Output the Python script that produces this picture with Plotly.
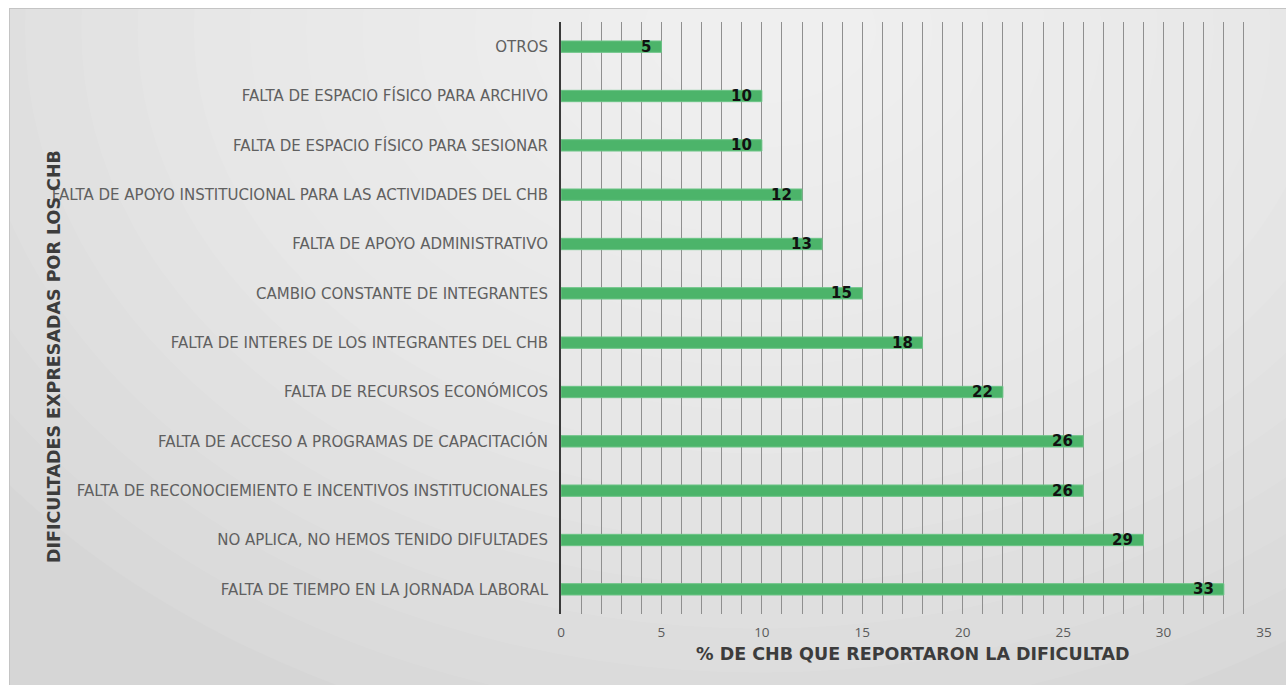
import plotly.graph_objects as go

categories = [
    "FALTA DE TIEMPO EN LA JORNADA LABORAL",
    "NO APLICA, NO HEMOS TENIDO DIFULTADES",
    "FALTA DE RECONOCIEMIENTO E INCENTIVOS INSTITUCIONALES",
    "FALTA DE ACCESO A PROGRAMAS DE CAPACITACIÓN",
    "FALTA DE RECURSOS ECONÓMICOS",
    "FALTA DE INTERES DE LOS INTEGRANTES DEL CHB",
    "CAMBIO CONSTANTE DE INTEGRANTES",
    "FALTA DE APOYO ADMINISTRATIVO",
    "FALTA DE APOYO INSTITUCIONAL PARA LAS ACTIVIDADES DEL CHB",
    "FALTA DE ESPACIO FÍSICO PARA SESIONAR",
    "FALTA DE ESPACIO FÍSICO PARA ARCHIVO",
    "OTROS",
]
values = [33, 29, 26, 26, 22, 18, 15, 13, 12, 10, 10, 5]
x_ticks = [0, 5, 10, 15, 20, 25, 30, 35]

W, H = 1286, 685
L, R, T, B = 561, 1264, 22, 614


def px(x):
    return (x - L) / (R - L)


def py(y):
    return (B - y) / (B - T)


fig = go.Figure()
fig.add_trace(go.Bar(
    y=categories, x=values, orientation="h",
    width=0.23,
    marker=dict(color="#4cb46a", line=dict(color="#6cc486", width=1)),
    hoverinfo="x+y",
))

shapes = [
    dict(type="rect", xref="paper", yref="paper",
         x0=px(9), x1=px(1290), y0=py(690), y1=py(8),
         fillcolor="#d6d6d6", line=dict(color="#c8c8c8", width=1), layer="below"),
]
n = 16
for i in range(n):
    f = 1 - i / n
    rx, ry = 60 + 900 * f, 30 + 700 * f
    cx, cy = 760, 30
    shapes.append(dict(type="circle", xref="paper", yref="paper",
                       x0=px(cx - rx), x1=px(cx + rx), y0=py(cy + ry), y1=py(cy - ry),
                       fillcolor="rgba(255,255,255,0.075)", line=dict(width=0), layer="below"))
shapes += [
    dict(type="rect", xref="paper", yref="paper", x0=px(-10), x1=px(9), y0=py(700), y1=py(-10),
         fillcolor="white", line=dict(width=0), layer="below"),
    dict(type="rect", xref="paper", yref="paper", x0=px(-10), x1=px(1300), y0=py(8), y1=py(-10),
         fillcolor="white", line=dict(width=0), layer="below"),
    dict(type="line", xref="paper", yref="paper", x0=px(9), x1=px(1290), y0=py(8.5), y1=py(8.5),
         line=dict(color="#c4c4c4", width=1), layer="below"),
    dict(type="line", xref="paper", yref="paper", x0=px(9.5), x1=px(9.5), y0=py(8), y1=py(690),
         line=dict(color="#c4c4c4", width=1), layer="below"),
]

annotations = [
    dict(x=v, y=c, xref="x", yref="y", text=str(v), showarrow=False,
         xanchor="right", xshift=-8, yshift=0,
         font=dict(family="DejaVu Sans", size=15, color="#111111", weight="bold"))
    for c, v in zip(categories, values)
]
annotations += [
    dict(text="% DE CHB QUE REPORTARON LA DIFICULTAD", xref="paper", yref="paper",
         x=px(913), y=py(666), showarrow=False,
         font=dict(family="DejaVu Sans", size=17.5, color="#3c3c3c", weight="bold")),
    dict(text="DIFICULTADES EXPRESADAS POR LOS CHB", xref="paper", yref="paper",
         x=px(42), y=py(357), showarrow=False, textangle=-90,
         font=dict(family="DejaVu Sans", size=17.5, color="#3c3c3c", weight="bold")),
]

fig.update_layout(
    width=W, height=H,
    margin=dict(l=L, r=W - R, t=T, b=H - B),
    paper_bgcolor="white",
    plot_bgcolor="rgba(0,0,0,0)",
    showlegend=False,
    shapes=shapes,
    annotations=annotations,
    xaxis=dict(
        range=[0, 35], tickvals=x_ticks, ticktext=[str(t) for t in x_ticks],
        showgrid=False,
        tickfont=dict(family="Open Sans", size=13.5, color="#5a5a5a"),
        ticks="", zeroline=False, showline=False,
        minor=dict(dtick=1, showgrid=True, gridcolor="#8f8f8f", gridwidth=1),
        ticklabelstandoff=8,
    ),
    yaxis=dict(
        categoryorder="array", categoryarray=categories,
        range=[-0.5, 11.5],
        showgrid=False, zeroline=False,
        showline=True, linecolor="#3a3a3a", linewidth=2,
        tickfont=dict(family="DejaVu Sans", size=15, color="#606060"),
        ticks="outside", ticklen=8, tickcolor="rgba(0,0,0,0)",
    ),
)

fig.write_html("out.html")
